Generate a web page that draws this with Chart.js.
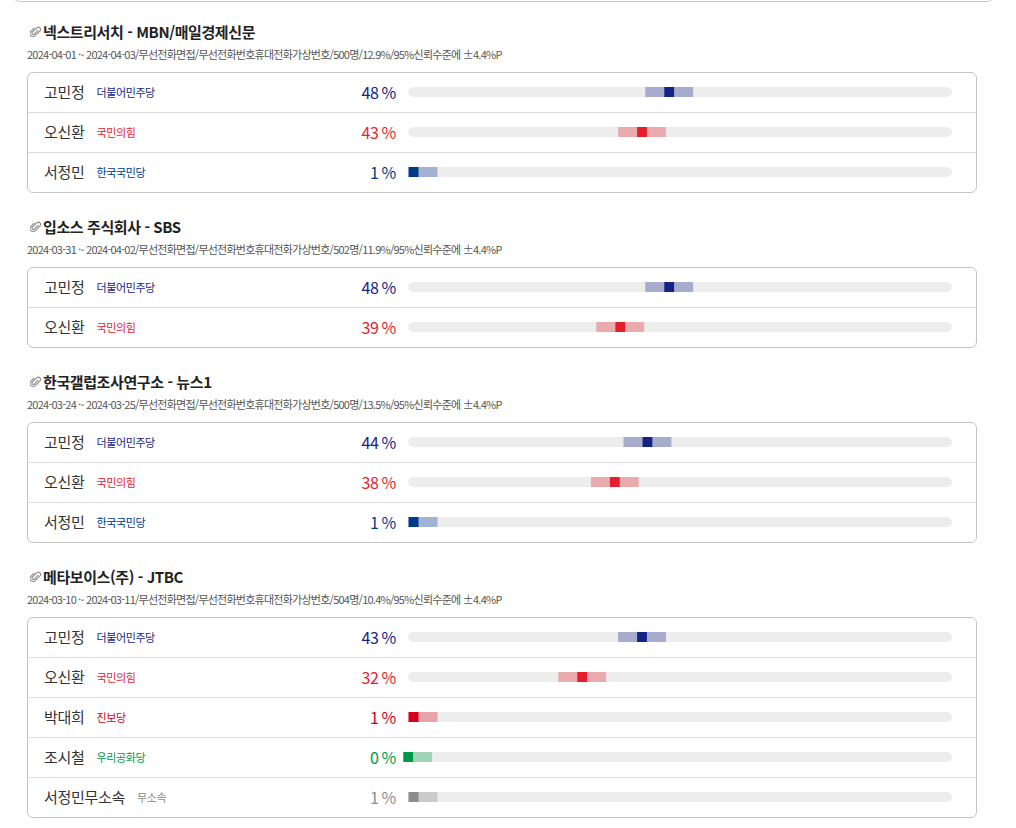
<!DOCTYPE html>
<html lang="ko">
<head>
<meta charset="utf-8">
<script src="https://cdn.jsdelivr.net/npm/chart.js@4.4.1/dist/chart.umd.min.js"></script>
<style>
  body { margin: 0; background: #fff; font-family: "Noto Sans CJK KR", "Noto Sans", sans-serif; color: #333; }
  #wrap { position: relative; width: 1016px; height: 828px; overflow: hidden; }
  .prev { position: absolute; left: 12px; top: -20px; width: 981px; height: 20px; border: 1px solid #c8c8c8; border-radius: 8px; }
  .block { position: relative; margin-top: 24px; }
  .block.first { margin-top: 22px; }
  .title { height: 20px; line-height: 20px; padding-left: 30px; font-size: 15px; font-weight: 700; color: #222; letter-spacing: -0.4px; display: flex; align-items: center; }
  .title svg { margin-right: 2px; }
  .note { margin-top: 4px; height: 16px; line-height: 16px; padding-left: 27px; font-size: 11px; color: #555; letter-spacing: -0.75px; white-space: nowrap; }
  .box { position: relative; margin: 10px 0 0 27px; width: 948px; border: 1px solid #c4c4c4; border-radius: 6px; }
  .row { position: relative; height: 39px; border-bottom: 1px solid #dcdcdc; display: flex; align-items: center; }
  .row:last-of-type { border-bottom: none; }
  .row span { transform: translateY(-1.5px); }
  .name { margin-left: 16px; font-size: 15px; color: #333; letter-spacing: -0.3px; }
  .party { margin-left: 12px; font-size: 11px; letter-spacing: -0.4px; }
  .pct { position: absolute; right: 580px; font-size: 16px; font-weight: 400; letter-spacing: -0.3px; }
  .box canvas { position: absolute; left: 372px; top: -1px; }
</style>
</head>
<body>
<div id="wrap"><div class="prev"></div></div>
<script>
const pollsters = ['넥스트리서치 - MBN/매일경제신문', '입소스 주식회사 - SBS', '한국갤럽조사연구소 - 뉴스1', '메타보이스(주) - JTBC'];
const surveyNotes = [
  '2024-04-01 ~ 2024-04-03/무선전화면접/무선전화번호휴대전화가상번호/500명/12.9%/95%신뢰수준에 ±4.4%P',
  '2024-03-31 ~ 2024-04-02/무선전화면접/무선전화번호휴대전화가상번호/502명/11.9%/95%신뢰수준에 ±4.4%P',
  '2024-03-24 ~ 2024-03-25/무선전화면접/무선전화번호휴대전화가상번호/500명/13.5%/95%신뢰수준에 ±4.4%P',
  '2024-03-10 ~ 2024-03-11/무선전화면접/무선전화번호휴대전화가상번호/504명/10.4%/95%신뢰수준에 ±4.4%P'
];
const candidates = [
  ['고민정', '오신환', '서정민'],
  ['고민정', '오신환'],
  ['고민정', '오신환', '서정민'],
  ['고민정', '오신환', '박대희', '조시철', '서정민무소속']
];
const parties = [
  ['더불어민주당', '국민의힘', '한국국민당'],
  ['더불어민주당', '국민의힘'],
  ['더불어민주당', '국민의힘', '한국국민당'],
  ['더불어민주당', '국민의힘', '진보당', '우리공화당', '무소속']
];
const support = [
  [48, 43, 1],
  [48, 39],
  [44, 38, 1],
  [43, 32, 1, 0, 1]
];
const marginOfError = 4.4;

// party colours: [text/marker, error band]
const partyColors = {
  '더불어민주당': ['#152484', '#a7abcc'],
  '국민의힘': ['#e61e2b', '#eaabae'],
  '한국국민당': ['#003a8c', '#a1b3d0'],
  '진보당': ['#d6001c', '#e8a4aa'],
  '우리공화당': ['#00994a', '#a0d4b8'],
  '무소속': ['#8c8c8c', '#cbcbcb']
};

const clip = '<svg width="11" height="12" viewBox="0 0 11 12"><path d="M8.2 4.2 L4.3 8.1 a1.3 1.3 0 0 1 -1.9 -1.9 L6.9 1.7 a2.2 2.2 0 0 1 3.1 3.1 L5.2 9.6 a3 3 0 0 1 -4.3 -4.3 L4.4 1.8" fill="none" stroke="#888" stroke-width="1.1"/></svg>';

const wrap = document.getElementById('wrap');

pollsters.forEach((title, b) => {
  const block = document.createElement('div');
  block.className = b === 0 ? 'block first' : 'block';
  block.innerHTML = '<div class="title">' + clip + '<span>' + title + '</span></div><div class="note">' + surveyNotes[b] + '</div>';
  const box = document.createElement('div');
  box.className = 'box';
  candidates[b].forEach((name, i) => {
    const party = parties[b][i];
    const col = partyColors[party][0];
    const row = document.createElement('div');
    row.className = 'row';
    row.innerHTML = '<span class="name">' + name + '</span><span class="party" style="color:' + col + '">' + party + '</span>' +
      '<span class="pct" style="color:' + col + '">' + support[b][i] + '\u2009%</span>';
    box.appendChild(row);
  });
  const cv = document.createElement('canvas');
  cv.width = 552;
  cv.height = candidates[b].length * 40;
  cv.style.width = '552px';
  cv.style.height = cv.height + 'px';
  box.appendChild(cv);
  block.appendChild(box);
  wrap.appendChild(block);

  const vals = support[b];
  new Chart(cv.getContext('2d'), {
    type: 'bar',
    data: {
      labels: candidates[b],
      datasets: [
        {
          // point estimate marker
          data: vals.map(v => [v - 0.9, v + 0.9]),
          backgroundColor: parties[b].map(p => partyColors[p][0]),
          order: 1
        },
        {
          // 95% band
          data: vals.map(v => [Math.max(0, v - marginOfError), v + marginOfError]),
          backgroundColor: parties[b].map(p => partyColors[p][1]),
          order: 2
        },
        {
          // track
          data: vals.map(() => [0, 100]),
          backgroundColor: '#ededed',
          borderRadius: 5,
          borderSkipped: false,
          order: 3
        }
      ]
    },
    options: {
      indexAxis: 'y',
      responsive: false,
      animation: false,
      devicePixelRatio: 1,
      layout: { padding: 0 },
      datasets: { bar: { grouped: false, barThickness: 10, inflateAmount: 0 } },
      scales: {
        x: { type: 'linear', min: -1.5, max: 100, display: false },
        y: { display: false }
      },
      plugins: { legend: { display: false }, tooltip: { enabled: false } }
    }
  });
});
</script>
</body>
</html>
